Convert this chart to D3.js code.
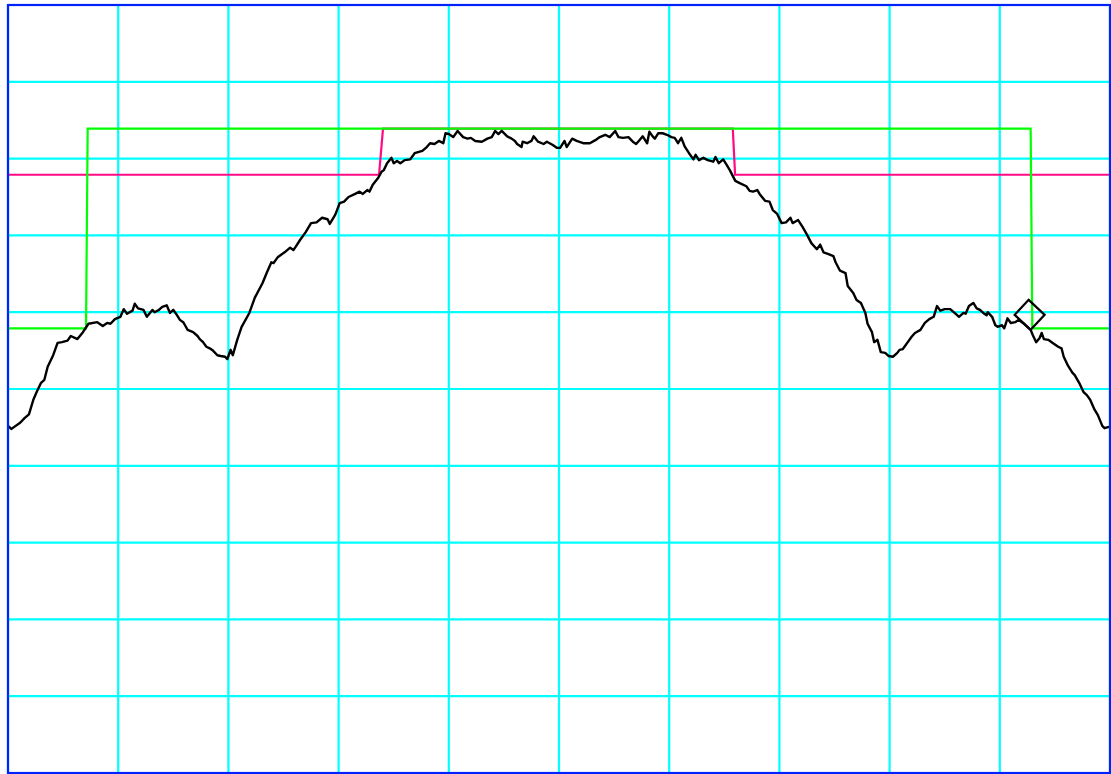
<!DOCTYPE html>
<html>
<head>
<meta charset="utf-8">
<script src="https://cdn.jsdelivr.net/npm/d3@7"></script>
<style>
  body { margin: 0; background: #fff; }
  svg { display: block; }
</style>
</head>
<body>
<svg id="chart"></svg>
<script>
// sweep trace: [point, level dB]
const trace = [
  [0,-54.8],[3,-55.2],[6,-54.9],[11,-54.4],[15,-53.8],[19,-53.3],[23,-51.4],[26,-50.4],[30,-49.2],[33,-48.8],
  [36,-47.1],[41,-45.6],[45,-44.0],[49,-43.9],[54,-43.7],[57,-43.1],[63,-43.5],[68,-42.6],[73,-41.5],[81,-41.3],
  [86,-41.8],[90,-41.4],[93,-41.5],[97,-40.9],[102,-40.6],[105,-39.6],[108,-40.2],[113,-39.8],[115,-38.9],[118,-39.5],
  [123,-39.7],[126,-40.6],[131,-39.7],[133,-40.0],[137,-39.7],[140,-39.3],[144,-39.1],[147,-40.1],[150,-39.7],[152,-40.1],
  [156,-41.0],[159,-41.3],[161,-41.8],[163,-42.3],[168,-42.6],[172,-43.1],[174,-43.5],[177,-43.9],[180,-44.5],[183,-44.7],
  [186,-45.0],[190,-45.6],[193,-45.7],[197,-45.8],[199,-46.1],[202,-44.9],[204,-45.6],[208,-43.6],[212,-41.9],[219,-40.1],
  [224,-38.1],[231,-36.2],[235,-34.8],[239,-33.5],[241,-33.6],[245,-32.8],[251,-32.2],[256,-31.6],[259,-31.9],[261,-31.5],
  [265,-30.6],[270,-29.6],[275,-28.4],[280,-28.3],[285,-27.7],[290,-27.9],[292,-28.5],[297,-27.3],[301,-25.8],[305,-25.6],
  [309,-25.0],[315,-24.6],[319,-24.3],[322,-24.6],[326,-24.1],[328,-24.3],[331,-23.4],[336,-22.5],[339,-21.7],[341,-21.5],
  [344,-20.6],[348,-19.9],[350,-20.6],[353,-20.3],[356,-20.6],[360,-20.2],[365,-20.1],[369,-19.3],[376,-19.0],[380,-18.5],
  [383,-18.0],[387,-18.1],[391,-17.7],[395,-18.0],[397,-16.7],[400,-16.8],[404,-17.2],[408,-16.4],[413,-17.2],[417,-17.4],
  [420,-17.3],[424,-17.7],[430,-17.8],[435,-17.4],[439,-17.2],[442,-16.4],[445,-16.8],[448,-16.4],[453,-17.1],[457,-17.4],
  [460,-17.7],[462,-18.1],[466,-18.5],[467,-17.8],[471,-18.0],[475,-17.7],[477,-17.1],[481,-17.8],[486,-18.1],[489,-17.8],
  [494,-18.2],[498,-18.6],[501,-18.6],[505,-17.7],[507,-18.5],[512,-17.4],[516,-17.7],[522,-18.0],[528,-18.0],[533,-17.6],
  [537,-17.2],[542,-16.9],[546,-17.2],[551,-16.4],[554,-17.2],[558,-17.3],[563,-17.2],[567,-17.8],[570,-18.1],[573,-17.6],
  [576,-17.1],[580,-18.0],[582,-16.5],[585,-17.1],[587,-17.4],[590,-16.7],[594,-16.7],[598,-16.9],[602,-17.2],[605,-17.3],
  [608,-18.0],[611,-17.3],[614,-18.4],[618,-19.3],[622,-20.1],[624,-19.5],[627,-20.2],[631,-19.9],[635,-20.2],[640,-20.4],
  [642,-19.8],[645,-20.6],[649,-20.1],[652,-20.8],[655,-21.5],[660,-22.9],[664,-23.2],[670,-23.6],[673,-24.2],[676,-24.3],
  [680,-24.1],[682,-24.6],[687,-25.5],[691,-25.6],[694,-26.7],[698,-27.2],[702,-28.4],[706,-28.3],[710,-27.7],[712,-28.4],
  [717,-28.0],[721,-28.9],[725,-29.9],[729,-31.0],[734,-31.8],[737,-31.2],[740,-32.2],[744,-32.4],[749,-32.7],[751,-33.5],
  [755,-34.6],[760,-34.9],[762,-36.6],[767,-37.5],[770,-38.4],[774,-38.8],[778,-40.1],[780,-41.5],[784,-42.6],[786,-43.9],
  [789,-43.6],[792,-45.2],[796,-45.3],[799,-45.7],[803,-45.8],[807,-45.3],[809,-44.9],[812,-44.8],[816,-44.0],[820,-43.2],
  [823,-42.7],[828,-42.3],[832,-41.4],[836,-40.9],[840,-40.6],[843,-39.2],[846,-39.8],[850,-39.6],[855,-39.6],[859,-40.1],
  [863,-40.6],[867,-40.1],[869,-40.2],[872,-39.2],[876,-38.8],[879,-39.5],[882,-39.7],[885,-40.1],[888,-40.4],[889,-40.0],
  [893,-40.6],[896,-41.7],[898,-41.9],[902,-41.7],[904,-42.1],[907,-40.8],[910,-41.4],[914,-41.3],[917,-41.0],[921,-41.4],
  [925,-41.9],[928,-42.3],[930,-43.0],[933,-43.9],[936,-43.4],[938,-42.7],[940,-43.5],[944,-43.6],[948,-44.0],[953,-44.5],
  [956,-44.7],[958,-45.8],[962,-47.0],[966,-47.9],[968,-48.2],[972,-49.2],[976,-50.4],[979,-50.8],[982,-51.4],[986,-52.7],
  [989,-53.4],[993,-54.8],[995,-55.1],[1000,-54.9]
];

// limit lines
const greenMask = [[0,-42.1],[70.8,-42.1],[72.3,-16.1],[928,-16.1],[929.5,-42.1],[1000,-42.1]];
const magentaMask = [[0,-22.1],[336.7,-22.1],[340.3,-16.1],[657.7,-16.1],[659.8,-22.1],[1000,-22.1]];

// marker sits on the trace
const marker = { point: 928, level: -42.3 };

const xTicks = d3.range(0, 1001, 100);
const yTicks = d3.range(-100, 1, 10);

const margin = { top: 5, right: 1, bottom: 1, left: 8 };
const width = 1111 - margin.left - margin.right;
const height = 774 - margin.top - margin.bottom;

const svg = d3.select("#chart")
    .attr("width", width + margin.left + margin.right)
    .attr("height", height + margin.top + margin.bottom)
    .append("g")
    .attr("transform", `translate(${margin.left},${margin.top})`);

const x = d3.scaleLinear().domain([0, 1000]).range([0, width]);
const y = d3.scaleLinear().domain([-100, 0]).range([height, 0]);

// grid from the axes
const xGrid = svg.append("g")
    .attr("transform", `translate(0,${height})`)
    .call(d3.axisBottom(x).tickValues(xTicks).tickSize(-height).tickFormat("").offset(0));
const yGrid = svg.append("g")
    .call(d3.axisLeft(y).tickValues(yTicks).tickSize(-width).tickFormat("").offset(0));
[xGrid, yGrid].forEach(g => {
    g.select(".domain").remove();
    g.selectAll(".tick line").attr("stroke", "#00ffff").attr("stroke-width", 2.2);
});

const line = d3.line().x(d => x(d[0])).y(d => y(d[1]));

svg.append("path")
    .datum(magentaMask)
    .attr("fill", "none")
    .attr("stroke", "#ff0a84")
    .attr("stroke-width", 2.2)
    .attr("d", line);

svg.append("path")
    .datum(greenMask)
    .attr("fill", "none")
    .attr("stroke", "#00ff00")
    .attr("stroke-width", 2.2)
    .attr("d", line);

svg.append("path")
    .datum(trace)
    .attr("fill", "none")
    .attr("stroke", "#000")
    .attr("stroke-width", 2.4)
    .attr("stroke-linejoin", "round")
    .attr("d", line);

// diamond marker, bottom corner on the trace point
const mx = x(marker.point), my = y(marker.level), r = 15;
svg.append("path")
    .attr("fill", "none")
    .attr("stroke", "#000")
    .attr("stroke-width", 2.2)
    .attr("d", `M${mx},${my}l${r - 1},${-r}l${-r - 1},${-r}l${-r + 1},${r}Z`);

// frame
svg.append("rect")
    .attr("x", 0)
    .attr("y", 0)
    .attr("width", width)
    .attr("height", height)
    .attr("fill", "none")
    .attr("stroke", "#0022ff")
    .attr("stroke-width", 2.2);
</script>
</body>
</html>
